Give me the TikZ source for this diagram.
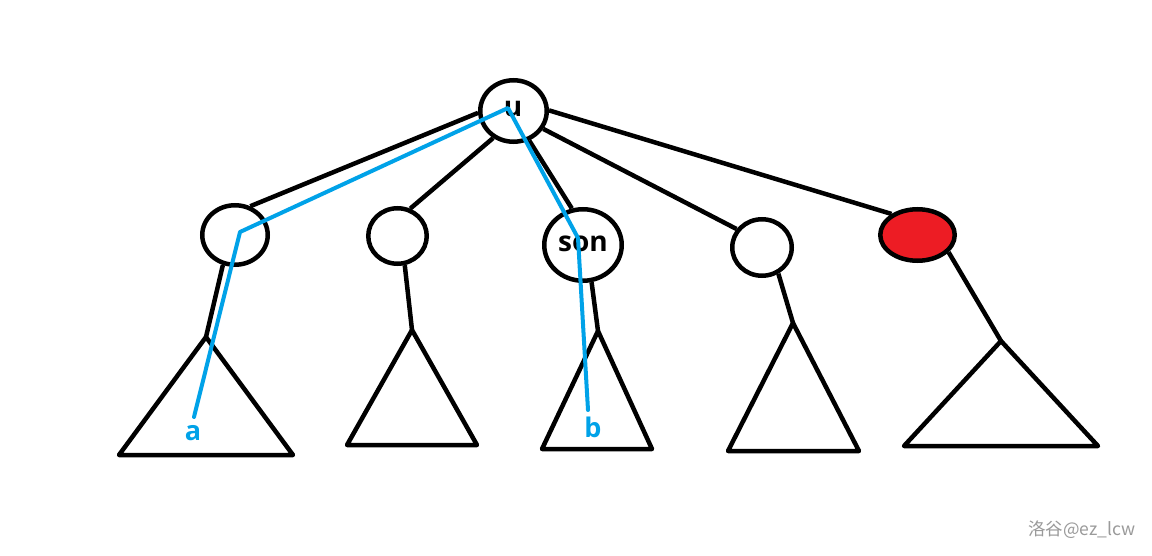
\documentclass[tikz,border=0pt]{standalone}
\usepackage{fontspec}
\setmainfont{Open Sans}
\newfontfamily\cjkwm{Noto Sans CJK SC}
\usetikzlibrary{shapes.geometric}
\definecolor{pblue}{HTML}{00A2E8}
\definecolor{pred}{HTML}{ED1C24}
\definecolor{wmgray}{HTML}{9A9A9A}
\tikzset{
  treenode/.style={ellipse, draw=black, line width=4.5pt, inner sep=0pt, fill=white},
  nodetext/.style={font=\fontsize{28}{28}\selectfont\bfseries, inner sep=0pt},
  edge/.style={line width=4.5pt, draw=black},
  subtree/.style={line width=4.5pt, draw=black, line join=round},
  pathline/.style={line width=4pt, draw=pblue, line cap=round, line join=round},
  pathlabel/.style={text=pblue, font=\fontsize{27}{27}\selectfont\bfseries, inner sep=0pt},
}
\begin{document}
\begin{tikzpicture}[x=1pt,y=-1pt]
\useasboundingbox[fill=white] (0,0) rectangle (1152,556);
% nodes
\node[treenode, minimum width=66.5pt, minimum height=61.5pt] (u) at (513.5,111) {};
\node[treenode, minimum width=65.5pt, minimum height=59.5pt] (A) at (235,235) {};
\node[treenode, minimum width=58.5pt, minimum height=55.5pt] (B) at (397.5,236) {};
\node[treenode, minimum width=77.5pt, minimum height=71.5pt] (son) at (583,245) {};
\node[treenode, minimum width=59.5pt, minimum height=56.5pt] (D) at (762,247.5) {};
\node[treenode, fill=pred, minimum width=74.5pt, minimum height=51.5pt] (R) at (917.5,235) {};
\node[nodetext] (ut) at (513,109) {u};
\node[nodetext] (sont) at (583,244) {son};
% triangle apexes
\coordinate (t1) at (206,337);
\coordinate (t2) at (412,330);
\coordinate (t3) at (598,331);
\coordinate (t4) at (793,323);
\coordinate (t5) at (1001,341);
% edges from root
\draw[edge] (u.183) -- (A.62);
\draw[edge] (u.233) -- (B.65);
\draw[edge] (u.298) -- (son.107);
\draw[edge] (u.329) -- (D.144);
\draw[edge] (u.1.5) -- (R.141);
% edges to subtrees
\draw[edge] (A.248) -- (t1);
\draw[edge] (B.284) -- (t2);
\draw[edge] (son.283) -- (t3);
\draw[edge] (D.302) -- (t4);
\draw[edge] (R.331) -- (t5);
% subtrees
\draw[subtree] (t1) -- (119,455) -- (293,455) -- cycle;
\draw[subtree] (t2) -- (347,445) -- (477,445) -- cycle;
\draw[subtree] (t3) -- (542,449) -- (652,449) -- cycle;
\draw[subtree] (t4) -- (728,451) -- (859,451) -- cycle;
\draw[subtree] (t5) -- (904,446) -- (1098,446) -- cycle;
% blue paths
\coordinate (bu) at (508,108);
\coordinate (bA) at (240,232);
\coordinate (ba) at (194,417);
\coordinate (bs) at (578,238);
\coordinate (bb) at (588,410);
\draw[pathline] (ba) -- (bA) -- (bu) -- (bs) -- (bb);
\node[pathlabel] (la) at (193,433) {a};
\node[pathlabel] (lb) at (593,427) {b};
% watermark
\node[text=wmgray, font=\cjkwm\fontsize{17.5}{17.5}\selectfont, inner sep=0pt, anchor=east] (wm) at (1136,530) {洛谷@ez\_lcw};
\end{tikzpicture}
\end{document}
